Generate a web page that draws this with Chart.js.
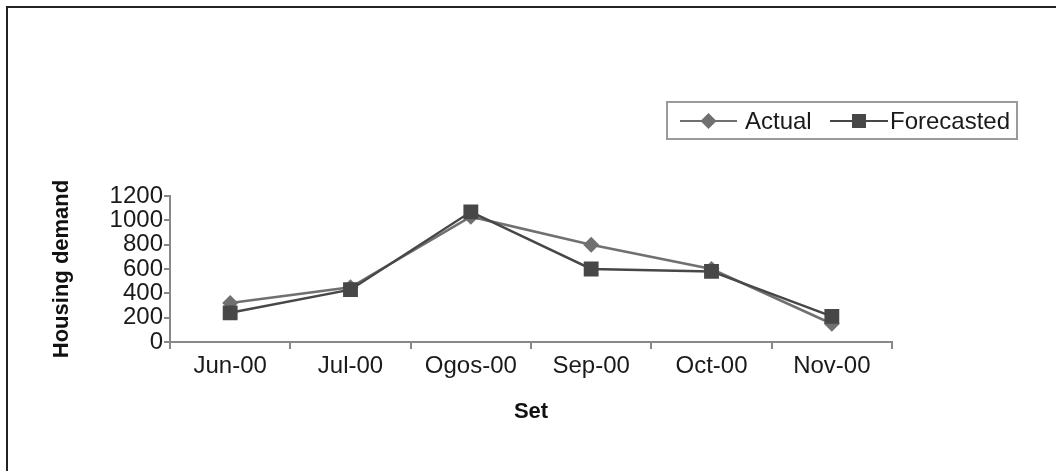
<!DOCTYPE html>
<html>
<head>
<meta charset="utf-8">
<script src="https://cdn.jsdelivr.net/npm/chart.js@4.4.1/dist/chart.umd.min.js"></script>
<style>
  body { margin: 0; background: #fff; overflow: hidden; }
  #wrap { position: relative; width: 1056px; height: 471px; }
  #frame { position: absolute; left: 6px; top: 6px; width: 1100px; height: 520px; border: 2px solid #222; box-sizing: border-box; }
  canvas { position: absolute; left: 0; top: 0; }
</style>
</head>
<body>
<div id="wrap">
  <div id="frame"></div>
  <canvas id="chart" width="1056" height="471"></canvas>
</div>
<script>
// data
const months = ["Jun-00", "Jul-00", "Ogos-00", "Sep-00", "Oct-00", "Nov-00"];
const actual = [320, 450, 1030, 800, 600, 150];
const forecasted = [240, 430, 1070, 600, 580, 210];
const yTicks = [0, 200, 400, 600, 800, 1000, 1200];

const FONT = "'Liberation Sans', Arial, sans-serif";
const actualColor = "#707070";
const forecastColor = "#474747";

// legend box drawn like the spreadsheet one: line + marker + label
const boxLegend = {
  id: "boxLegend",
  afterDraw(chart) {
    const ctx = chart.ctx;
    ctx.save();
    ctx.strokeStyle = "#9a9a9a";
    ctx.lineWidth = 2;
    ctx.strokeRect(667, 102, 350, 37);
    const y = 121;
    const items = [
      { x0: 680, x1: 737, tx: 745, ds: chart.data.datasets[0] },
      { x0: 830, x1: 888, tx: 890, ds: chart.data.datasets[1] }
    ];
    items.forEach(it => {
      const c = it.ds.borderColor;
      ctx.strokeStyle = c;
      ctx.lineWidth = 2;
      ctx.beginPath();
      ctx.moveTo(it.x0, y);
      ctx.lineTo(it.x1, y);
      ctx.stroke();
      const mx = (it.x0 + it.x1) / 2;
      ctx.fillStyle = c;
      ctx.beginPath();
      if (it.ds.pointStyle === "rectRot") {
        const r = 8;
        ctx.moveTo(mx, y - r); ctx.lineTo(mx + r, y); ctx.lineTo(mx, y + r); ctx.lineTo(mx - r, y);
        ctx.closePath();
      } else {
        ctx.rect(mx - 7, y - 7, 14, 14);
      }
      ctx.fill();
      ctx.fillStyle = "#1a1a1a";
      ctx.font = "24px " + FONT;
      ctx.textBaseline = "middle";
      ctx.textAlign = "left";
      ctx.fillText(it.ds.label, it.tx, y + 1);
    });
    ctx.restore();
  }
};

new Chart(document.getElementById("chart"), {
  type: "line",
  data: {
    labels: months,
    datasets: [
      {
        label: "Actual",
        data: actual,
        borderColor: actualColor,
        backgroundColor: actualColor,
        borderWidth: 2.5,
        pointStyle: "rectRot",
        pointRadius: 8,
        pointBorderWidth: 0,
        order: 1
      },
      {
        label: "Forecasted",
        data: forecasted,
        borderColor: forecastColor,
        backgroundColor: forecastColor,
        borderWidth: 2.5,
        pointStyle: "rect",
        pointRadius: 10.5,
        pointBorderWidth: 0,
        order: 0
      }
    ]
  },
  options: {
    responsive: false,
    animation: false,
    layout: { padding: { top: 196, right: 164, left: 0, bottom: 0 } },
    plugins: {
      legend: { display: false },
      tooltip: { enabled: false }
    },
    scales: {
      x: {
        offset: true,
        grid: { offset: true, drawOnChartArea: false, drawTicks: true, tickLength: 7, color: "#888", lineWidth: 2 },
        border: { color: "#888", width: 2 },
        ticks: { color: "#1a1a1a", font: { family: FONT, size: 24 }, padding: 3, maxRotation: 0, autoSkip: false },
        title: { display: true, text: "Set", color: "#111", font: { family: FONT, size: 22, weight: "bold" }, padding: { top: 4, bottom: 46 } },
        afterFit(scale) { scale.height = 471 - 342; }
      },
      y: {
        min: 0,
        max: 1200,
        afterBuildTicks(scale) { scale.ticks = yTicks.map(v => ({ value: v })); },
        grid: { drawOnChartArea: false, drawTicks: true, tickLength: 6, color: "#888", lineWidth: 2 },
        border: { color: "#888", width: 2 },
        ticks: { color: "#1a1a1a", font: { family: FONT, size: 24, lineHeight: 1 }, padding: 1, autoSkip: false, callback: v => String(v) },
        title: { display: true, text: "Housing demand", color: "#111", font: { family: FONT, size: 22, weight: "bold" }, padding: { top: 49, bottom: 0 } },
        afterFit(scale) { scale.width = 170; }
      }
    }
  },
  plugins: [boxLegend]
});
</script>
</body>
</html>
